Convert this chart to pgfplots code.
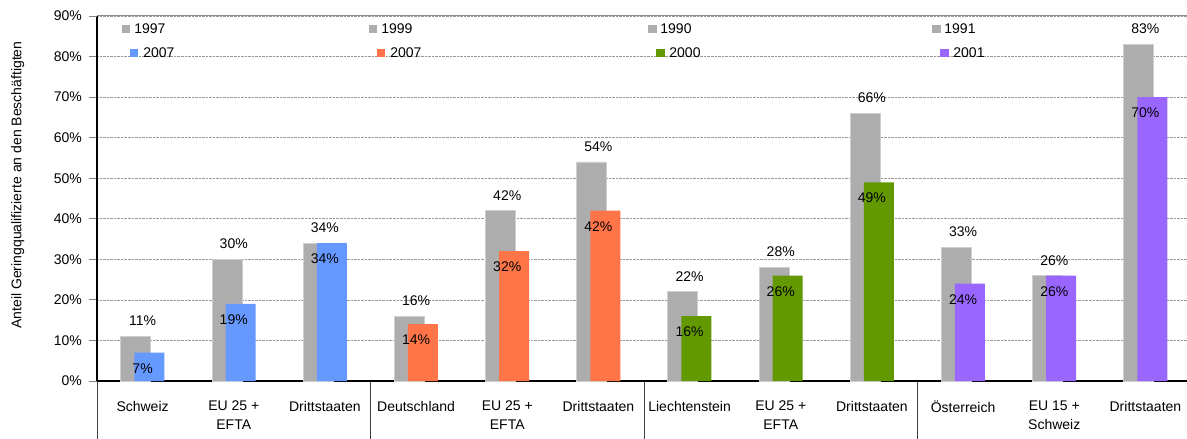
\documentclass[border=0pt]{standalone}
\usepackage{fontspec}
\setmainfont{Liberation Sans}
\usepackage{pgfplots}
\usepackage{pgfplotstable}
\pgfplotsset{compat=1.18}
\pgfkeys{/pgf/number format/assume math mode=true}

\definecolor{oldc}{HTML}{ADADAD}
\definecolor{chc}{HTML}{6699FF}
\definecolor{dec}{HTML}{FF7547}
\definecolor{lic}{HTML}{639900}
\definecolor{atc}{HTML}{9966FF}

% Anteil Geringqualifizierte: altes Jahr / neues Jahr
\pgfplotstableread{
x old new
0 11 7
1 30 19
2 34 34
}\schweiz
\pgfplotstableread{
x old new
3 16 14
4 42 32
5 54 42
}\deutschland
\pgfplotstableread{
x old new
6 22 16
7 28 26
8 66 49
}\liechtenstein
\pgfplotstableread{
x old new
9 33 24
10 26 26
11 83 70
}\oesterreich

\pgfplotsset{
  base/.style={
    scale only axis, width=1094bp, height=365bp,
    at={(97bp,58bp)}, anchor=south west,
    xmin=-0.5, xmax=11.5, ymin=0, ymax=90,
    clip=false,
    legend cell align=left,
    legend style={draw=none, fill=none, inner sep=0pt, outer sep=0pt,
      anchor=north west, column sep=5.5bp, row sep=14bp,
      nodes={inner sep=0pt, text height=10bp, text depth=0pt}},
  },
  oldbar/.style={ybar, bar width=30bp, bar shift=-6.7bp,
    fill=oldc, draw=oldc!60!white, line width=0.8bp,
    nodes near coords={\pgfmathprintnumber{\pgfplotspointmeta}\%},
    every node near coord/.append style={anchor=south, inner sep=0pt, yshift=10bp, text=black}},
  newbar/.style={ybar, bar width=30bp, bar shift=6.9bp, fill=#1, draw=none,
    nodes near coords={\pgfmathprintnumber{\pgfplotspointmeta}\%},
    every node near coord/.append style={anchor=south, inner sep=0pt, yshift=-21bp, text=black}},
}

\begin{document}
\fontsize{14bp}{19bp}\selectfont
\begin{tikzpicture}[font=\fontsize{14bp}{19bp}\selectfont]
\begin{axis}[base,
  axis lines*=left,
  x axis line style={line width=2bp},
  y axis line style={line width=1.5bp},
  tick align=outside,
  major tick length=8bp,
  xtick={0,...,11},
  xticklabels={Schweiz,{EU 25 +\\EFTA},Drittstaaten,Deutschland,{EU 25 +\\EFTA},Drittstaaten,
    Liechtenstein,{EU 25 +\\EFTA},Drittstaaten,Österreich,{EU 15 +\\Schweiz},Drittstaaten},
  xticklabel style={align=center, anchor=north, inner sep=0pt, yshift=-12bp},
  major x tick style={draw=none},
  minor xtick={-0.5,2.5,5.5,8.5},
  minor tick length=58bp,
  minor x tick style={draw=black!75, line width=0.8bp},
  ytick={0,10,...,90},
  yticklabel={\pgfmathprintnumber{\tick}\%},
  yticklabel style={inner sep=0pt, xshift=-7bp},
  major y tick style={line width=0.8bp},
  ymajorgrids,
  grid style={densely dotted, draw=gray!80, line width=0.6bp},
  extra y ticks={90},
  extra y tick labels={},
  extra y tick style={major grid style={solid, draw=gray!90, line width=1bp}},
  ylabel={Anteil Geringqualifizierte an den Beschäftigten},
  ylabel style={at={(axis description cs:-0.0725,0.537)}, anchor=center},
  legend style={at={(axis cs:-0.226,88.15)}},
]
\addlegendimage{legend image code/.code={\fill[oldc] (0bp,-3.75bp) rectangle (7.5bp,3.75bp);}}
\addlegendentry{\hspace*{-9bp}1997}
\addlegendimage{legend image code/.code={\fill[chc] (8bp,-3.75bp) rectangle (15.5bp,3.75bp);}}
\addlegendentry{2007}
\addplot[oldbar] table[x=x, y=old] {\schweiz};
\addplot[newbar=chc] table[x=x, y=new] {\schweiz};
\addplot[oldbar] table[x=x, y=old] {\deutschland};
\addplot[newbar=dec] table[x=x, y=new] {\deutschland};
\addplot[oldbar] table[x=x, y=old] {\liechtenstein};
\addplot[newbar=lic] table[x=x, y=new] {\liechtenstein};
\addplot[oldbar] table[x=x, y=old] {\oesterreich};
\addplot[newbar=atc] table[x=x, y=new] {\oesterreich};
\end{axis}

\begin{axis}[base, hide axis, legend style={at={(axis cs:2.483,88.15)}}]
\addlegendimage{legend image code/.code={\fill[oldc] (0bp,-3.75bp) rectangle (7.5bp,3.75bp);}}
\addlegendentry{\hspace*{-9bp}1999}
\addlegendimage{legend image code/.code={\fill[dec] (8bp,-3.75bp) rectangle (15.5bp,3.75bp);}}
\addlegendentry{2007}
\end{axis}

\begin{axis}[base, hide axis, legend style={at={(axis cs:5.544,88.15)}}]
\addlegendimage{legend image code/.code={\fill[oldc] (0bp,-3.75bp) rectangle (7.5bp,3.75bp);}}
\addlegendentry{\hspace*{-9bp}1990}
\addlegendimage{legend image code/.code={\fill[lic] (8bp,-3.75bp) rectangle (15.5bp,3.75bp);}}
\addlegendentry{2000}
\end{axis}

\begin{axis}[base, hide axis, legend style={at={(axis cs:8.659,88.15)}}]
\addlegendimage{legend image code/.code={\fill[oldc] (0bp,-3.75bp) rectangle (7.5bp,3.75bp);}}
\addlegendentry{\hspace*{-9bp}1991}
\addlegendimage{legend image code/.code={\fill[atc] (8bp,-3.75bp) rectangle (15.5bp,3.75bp);}}
\addlegendentry{2001}
\end{axis}

\pgfresetboundingbox
\useasboundingbox (0,0) rectangle (1187bp,439bp);
\end{tikzpicture}
\end{document}
